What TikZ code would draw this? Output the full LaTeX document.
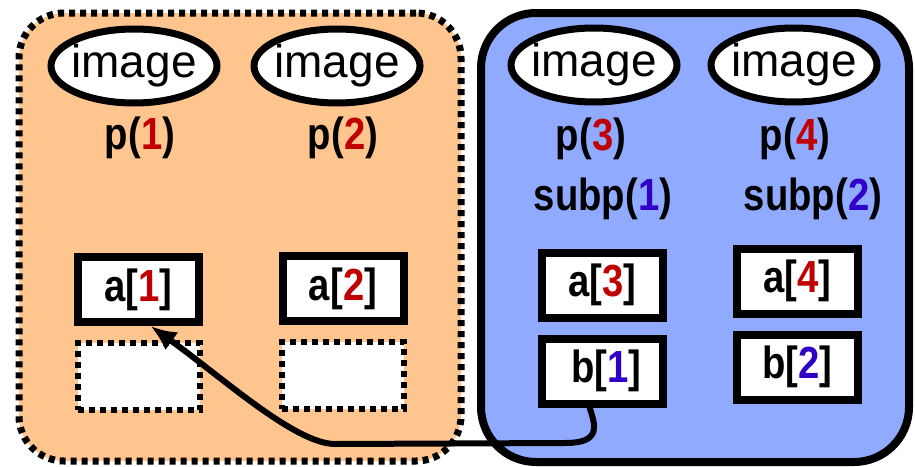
\documentclass[tikz,border=0pt]{standalone}
\usepackage{fontspec}
\setmainfont{Liberation Sans}
\newfontfamily\lblfont{Liberation Sans}[FakeStretch=0.85]
\usepackage{xcolor}
\usepackage{tikz}
\usetikzlibrary{shapes, arrows.meta, positioning}

\definecolor{numred}{RGB}{192,0,0}
\definecolor{numblue}{RGB}{48,0,200}
\definecolor{procorange}{RGB}{255,197,142}
\definecolor{procblue}{RGB}{143,170,255}

\newcommand{\rnum}[1]{\textcolor{numred}{#1}}
\newcommand{\bnum}[1]{\textcolor{numblue}{#1}}

\begin{document}
\begin{tikzpicture}[x=1pt, y=-1pt, node distance=13pt,
    img/.style={draw, ellipse, line width=7pt, fill=white, inner sep=0pt, minimum width=166pt, minimum height=74pt, font=\fontsize{46}{46}\selectfont},
    lbl/.style={inner sep=0pt, anchor=base, font=\lblfont\bfseries\fontsize{45}{45}\selectfont},
    cell/.style={draw, line width=8pt, fill=white, inner sep=0pt, minimum width=121pt, minimum height=65pt, font=\lblfont\bfseries\fontsize{45}{45}\selectfont},
    slot/.style={draw, line width=6pt, dash pattern=on 6pt off 5pt, fill=white, minimum width=122pt, minimum height=67pt},
    link/.style={line width=6pt, -{Latex[length=26pt, width=22pt]}}]
    \useasboundingbox (0,0) rectangle (915,466);

    % Process groups
    \node [draw, line width=7pt, dash pattern=on 6pt off 5pt, rounded corners=45pt, fill=procorange, minimum width=442pt, minimum height=448pt] (grpL) at (240,237) {};
    \node [draw, line width=8pt, rounded corners=55pt, fill=procblue, minimum width=428pt, minimum height=449pt] (grpR) at (695,237.5) {};

    % Images
    \node [img] (img1) at (134,66) {\makebox[100pt]{image}};
    \node [img] (img2) at (337,66) {\makebox[100pt]{image}};
    \node [img] (img3) at (594,65) {\makebox[100pt]{image}};
    \node [img] (img4) at (794,65) {\makebox[100pt]{image}};

    % Process labels
    \node [lbl] (p1) at (140,149) {p(\rnum{1})};
    \node [lbl] (p2) at (343,149) {p(\rnum{2})};
    \node [lbl] (p3) at (591,150) {p(\rnum{3})};
    \node [lbl] (p4) at (795,150) {p(\rnum{4})};
    \node [lbl] (sp1) at (603,210) {subp(\bnum{1})};
    \node [lbl] (sp2) at (813,210) {subp(\bnum{2})};

    % Arrays
    \node [cell] (a1) at (138.5,289.5) {a[\rnum{1}]};
    \node [slot, below=14pt of a1] (e1) {};
    \node [cell] (a2) at (343,288.5) {a[\rnum{2}]};
    \node [slot, below=14pt of a2] (e2) {};
    \node [cell] (a3) at (602.5,285) {a[\rnum{3}]};
    \node [cell, below=of a3] (b1) {\,b[\bnum{1}]};
    \node [cell] (a4) at (797.5,281) {a[\rnum{4}]};
    \node [cell, below=of a4] (b2) {b[\bnum{2}]};

    % Copy back
    \coordinate (bendR) at (565,443);
    \coordinate (bendL) at (335,444);
    \draw [link] ([xshift=-13pt]b1.south) .. controls +(8,22) and +(33,0) .. (bendR) -- (bendL)
        .. controls +(-40,0) and +(70,50) .. ([xshift=12pt]a1.south);
\end{tikzpicture}
\end{document}
